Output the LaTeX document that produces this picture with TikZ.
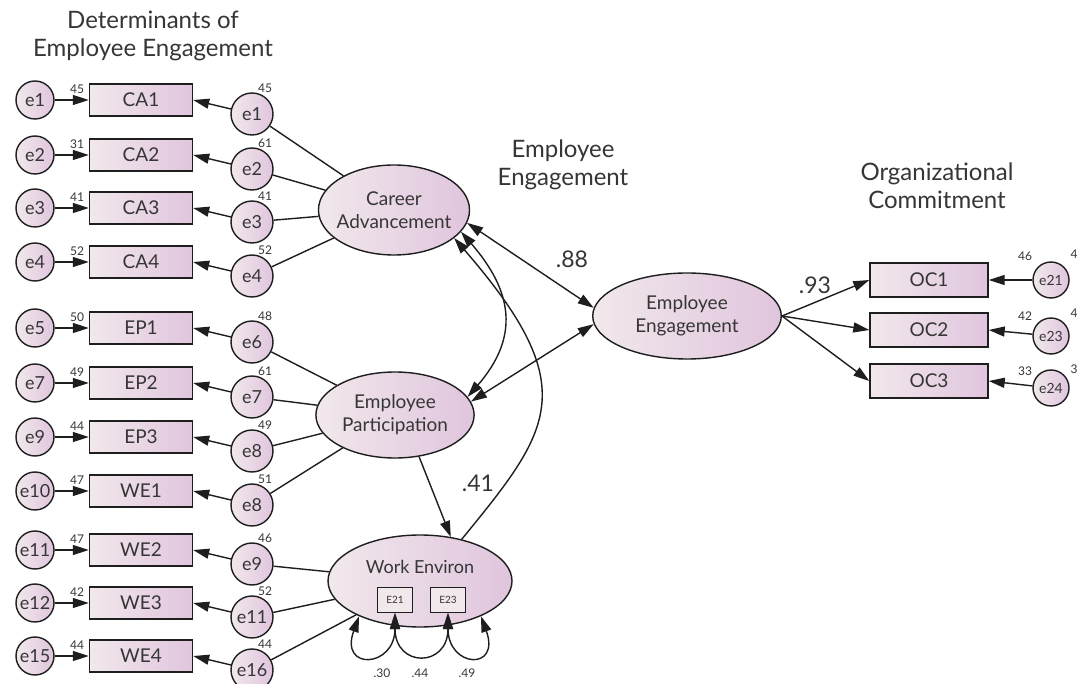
\documentclass[tikz,border=0pt]{standalone}
\usepackage{fontspec}
\setmainfont{Lato}
\usetikzlibrary{arrows.meta,positioning,shapes.geometric}
\definecolor{lnc}{HTML}{1E1E1E}
\definecolor{txc}{HTML}{363636}
\definecolor{pinkL}{HTML}{F1E8EC}
\definecolor{pinkR}{HTML}{E0C5DD}

\begin{document}
\begin{tikzpicture}[x=1pt, y=-1pt, line width=1.4pt, draw=lnc,
    >={Triangle[length=16pt,width=10pt]},
    font=\fontsize{18}{21}\selectfont, text=txc,
    obs/.style={draw, rectangle, inner sep=0pt, minimum width=103pt, minimum height=32pt,
      left color=pinkL, right color=pinkR, font=\fontsize{19}{22}\selectfont},
    err/.style={draw, circle, inner sep=0pt, minimum size=38pt, left color=pinkL, right color=pinkR},
    lat/.style={draw, ellipse, inner sep=0pt, align=center, left color=pinkL, right color=pinkR,
      font=\fontsize{19}{23}\selectfont},
    num/.style={inner sep=0pt, font=\fontsize{12}{14}\selectfont},
    head/.style={align=center, font=\fontsize{24}{28}\selectfont},
    coef/.style={inner sep=0pt, font=\fontsize{23}{26}\selectfont}]
   \clip (0,0) rectangle (1077,684);
   \fill[white] (0,0) rectangle (1077,684);

   % headings
   \node[head] (hdet) at (153,36) {Determinants of\\Employee Engagement};
   \node[head] (heng) at (563,165) {Employee\\Engagement};
   \node[head] (horg) at (937,186) {Organizational\\Commitment};

   % indicators with their errors
   \foreach \y/\le/\ln/\ob/\re/\rn [count=\i] in {
       100/e1/45/CA1/e1/45, 155/e2/31/CA2/e2/61, 208/e3/41/CA3/e3/41, 262/e4/52/CA4/e4/52,
       328/e5/50/EP1/e6/48, 383/e7/49/EP2/e7/61, 437/e9/44/EP3/e8/49, 491/e10/47/WE1/e8/51,
       550/e11/47/WE2/e9/46, 603/e12/42/WE3/e11/52, 656/e15/44/WE4/e16/44} {
     \node[err] (l\i) at (35,\y) {\le};
     \node[obs] (o\i) at (141,\y) {\ob};
     \node[err, minimum size=42pt] (r\i) at (252,\y+14) {\re};
     \node[num] (ln\i) at (77,\y-11) {\ln};
     \node[num] (rn\i) at (265,\y-12) {\rn};
     \draw[->] (l\i) -- (o\i);
     \draw[->] (r\i) -- (o\i.east);
   }

   % latent variables
   \node[lat, inner xsep=-4pt, minimum height=90pt] (ca) at (394,210) {Career\\Advancement};
   \node[lat, inner xsep=3pt, minimum height=86pt] (ep) at (395,415) {Employee\\Participation};
   \node[lat, minimum width=184pt, minimum height=92pt] (we) at (420,581) {};
   \node (wet) at (420,567) {Work Environ};
   \node[draw, inner sep=0pt, minimum width=35pt, minimum height=25pt, fill=pinkL,
     line width=1pt, font=\fontsize{10}{12}\selectfont] (e21) at (395,600) {E21};
   \node[draw, inner sep=0pt, minimum width=35pt, minimum height=25pt, fill=pinkL,
     line width=1pt, font=\fontsize{10}{12}\selectfont] (e23) at (448,600) {E23};
   \node[lat, inner xsep=15pt, minimum height=86pt] (ee) at (687,316) {Employee\\Engagement};

   \foreach \i in {1,...,4} \draw (ca) -- (r\i);
   \foreach \i in {5,...,8} \draw (ep) -- (r\i);
   \foreach \i in {9,10,11} \draw (we) -- (r\i);

   % structural paths
   \draw[<->] (ca.-10) -- (ee.175);
   \draw[<->] (ep.10) -- (ee.185);
   \draw[<->] (ca.-18) .. controls +(52,60) and +(52,-60) .. (ep.14);
   \draw[<-] (ca.-25) .. controls +(130,150) and +(90,-110) .. (we.45);
   \draw[->] (ep.-60) -- (we.55);
   \draw[<->] (we.210) .. controls +(-20,55) and +(0,55) .. (e21.south);
   \draw[<->] (e21.south) .. controls +(0,55) and +(0,55) .. (e23.south);
   \draw[<->] (e23.south) .. controls +(0,55) and +(20,55) .. (we.330);
   \node[coef] (c88) at (572,259) {.88};
   \node[coef] (c41) at (478,483) {.41};
   \node[num] (c30) at (382,673) {.30};
   \node[num] (c44) at (420,673) {.44};
   \node[num] (c49) at (467,673) {.49};

   % organizational commitment
   \node[obs, minimum width=118pt, minimum height=34pt] (oc1) at (929,280) {OC1};
   \node[obs, minimum width=118pt, minimum height=34pt] (oc2) at (929,330) {OC2};
   \node[obs, minimum width=118pt, minimum height=34pt] (oc3) at (929,381) {OC3};
   \node[err, minimum size=36pt, font=\fontsize{14}{16}\selectfont] (e21c) at (1051,280) {e21};
   \node[err, minimum size=36pt, font=\fontsize{14}{16}\selectfont] (e23c) at (1051,336) {e23};
   \node[err, minimum size=36pt, font=\fontsize{14}{16}\selectfont] (e24c) at (1051,388) {e24};
   \draw[->] (ee.east) -- (oc1.west);
   \draw[->] (ee.east) -- (oc2.west);
   \draw[->] (ee.east) -- (oc3.west);
   \draw[->] (e21c) -- (oc1.east);
   \draw[->] (e23c) -- (oc2.east);
   \draw[->] (e24c) -- (oc3.east);
   \node[coef] (c93) at (815,285) {.93};
   \node[num] (n46) at (1025,256) {46};
   \node[num] (n42) at (1025,316) {42};
   \node[num] (n33) at (1025,371) {33};
   \node[num, anchor=west] (m46) at (1070,254) {46};
   \node[num, anchor=west] (m42) at (1070,313) {42};
   \node[num, anchor=west] (m30) at (1070,369) {30};
\end{tikzpicture}
\end{document}
